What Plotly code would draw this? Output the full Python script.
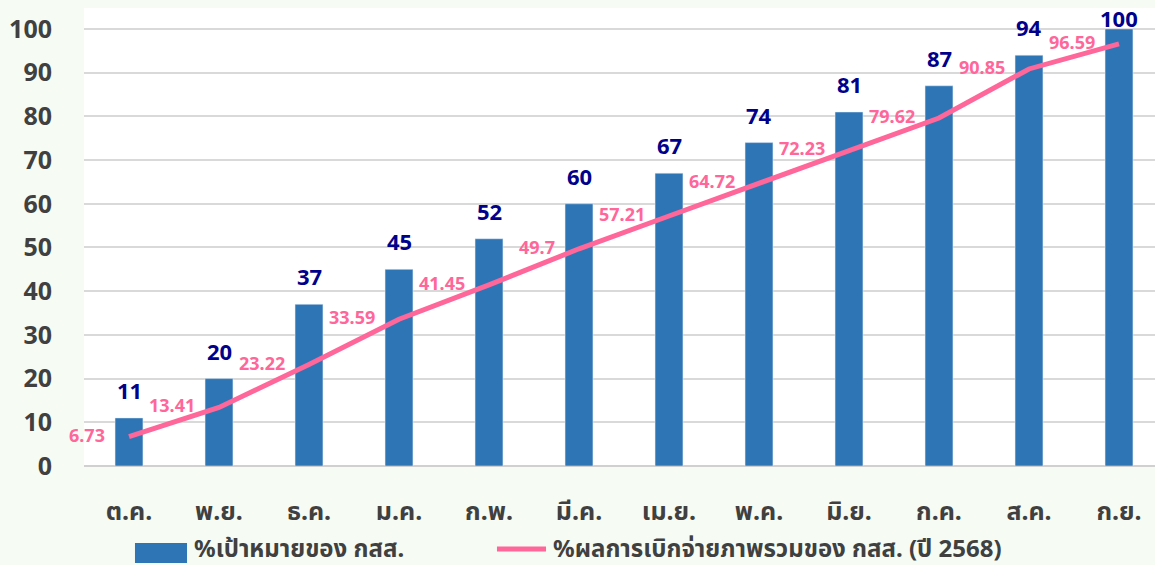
import plotly.graph_objects as go

months = ['ต.ค.', 'พ.ย.', 'ธ.ค.', 'ม.ค.', 'ก.พ.', 'มี.ค.', 'เม.ย.', 'พ.ค.', 'มิ.ย.', 'ก.ค.', 'ส.ค.', 'ก.ย.']
target = [11, 20, 37, 45, 52, 60, 67, 74, 81, 87, 94, 100]
actual = [6.73, 13.41, 23.22, 33.59, 41.45, 49.7, 57.21, 64.72, 72.23, 79.62, 90.85, 96.59]
yticks = [0, 10, 20, 30, 40, 50, 60, 70, 80, 90, 100]
bar_name = '%เป้าหมายของ กสส.'
line_name = '%ผลการเบิกจ่ายภาพรวมของ กสส. (ปี 2568)'

BAR = '#2e75b6'
PINK = '#ff6699'
NAVY = '#00008b'
GREY = '#404040'
FONT = 'Noto Sans, Noto Sans Thai, sans-serif'

fig = go.Figure()
fig.add_trace(go.Bar(
    x=list(range(len(months))), y=target, name=bar_name,
    marker={'color': BAR}, width=0.31,
))
fig.add_trace(go.Scatter(
    x=list(range(len(months))), y=actual, name=line_name,
    mode='lines', line={'color': PINK, 'width': 5},
))

# value labels (the top one gets pushed down so it stays on the page)
for i, v in enumerate(target):
    fig.add_annotation(x=i, y=v, text=f'<b>{v}</b>', showarrow=False,
                       yanchor='bottom', yshift=11 if v < 100 else -6,
                       font={'color': NAVY, 'size': 22, 'family': FONT})
for i, v in enumerate(actual):
    fig.add_annotation(x=i, y=v, text=f'<b>{v}</b>', showarrow=False,
                       xanchor='right', yanchor='middle', xshift=-22, yshift=2,
                       font={'color': PINK, 'size': 18, 'family': FONT})

# hand-made legend (bigger swatches than plotly's)
fig.add_shape(type='rect', xref='paper', yref='paper', x0=0.0476, x1=0.0962,
              y0=-0.2118, y1=-0.168, fillcolor=BAR, line={'width': 0})
fig.add_annotation(xref='paper', yref='paper', x=0.1008, y=-0.179, xanchor='left',
                   yanchor='middle', showarrow=False, text=f'<b>{bar_name}</b>',
                   font={'size': 24, 'color': GREY, 'family': FONT})
fig.add_shape(type='line', xref='paper', yref='paper', x0=0.3856, x1=0.4314,
              y0=-0.1812, y1=-0.1812, line={'color': PINK, 'width': 5})
fig.add_annotation(xref='paper', yref='paper', x=0.436, y=-0.179, xanchor='left',
                   yanchor='middle', showarrow=False, text=f'<b>{line_name}</b>',
                   font={'size': 24, 'color': GREY, 'family': FONT})

fig.update_layout(
    width=1155, height=565,
    margin={'l': 84, 'r': 0, 't': 8, 'b': 99},
    paper_bgcolor='#f6fbf4', plot_bgcolor='white',
    font={'family': FONT, 'color': GREY},
    showlegend=False,
)
fig.update_xaxes(
    tickmode='array', tickvals=list(range(len(months))),
    ticktext=[f'<b>{m}</b>' for m in months],
    range=[-0.5, 11.4], showgrid=False, ticks='', ticklabelstandoff=28,
    tickfont={'size': 25, 'color': GREY, 'family': FONT}, automargin=False,
)
fig.update_yaxes(
    range=[0, 104.8], tickvals=yticks, ticktext=[f'<b>{t}</b>' for t in yticks],
    showgrid=True, gridcolor='#d9d9d9', gridwidth=1.5,
    zeroline=True, zerolinecolor='#d0d0d0', zerolinewidth=1.5,
    tickfont={'size': 25, 'color': GREY, 'family': FONT}, ticklabelstandoff=31,
    automargin=False,
)

# drop the page's default body margin so the figure sits at the window corner
fig.write_html('out.html', config={'displayModeBar': False},
               post_script="document.body.style.margin='0';"
               "document.body.style.background='#f6fbf4';")
